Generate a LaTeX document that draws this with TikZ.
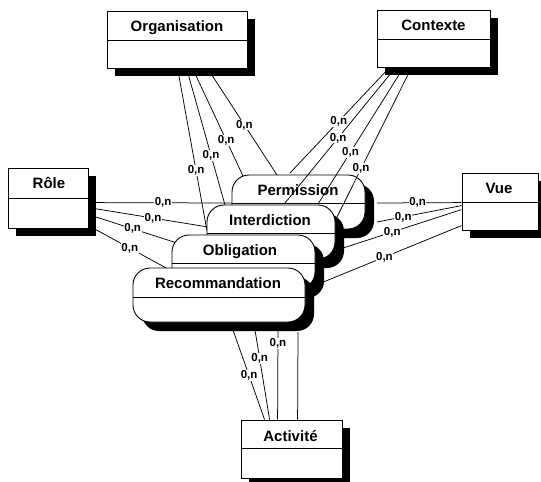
\documentclass[tikz,border=0pt]{standalone}
\usepackage{fontspec}
\setmainfont{Liberation Sans}
\usetikzlibrary{shadows}
\pgfdeclarelayer{permlayer}
\pgfdeclarelayer{linklayer}
\pgfdeclarelayer{assoclayer}
\pgfsetlayers{permlayer,linklayer,assoclayer,main}
\begin{document}
\begin{tikzpicture}[x=1pt, y=-1pt,
  ttl/.style={font=\fontsize{15}{17}\selectfont\bfseries, inner sep=0pt, anchor=base},
  card/.style={font=\fontsize{11.5}{13}\selectfont\bfseries, fill=white, inner sep=0.5pt},
  link/.style={line width=0.75pt},
  rule/.style={line width=0.85pt},
  entity/.style={draw, line width=0.85pt, fill=white, inner sep=0pt,
    drop shadow={shadow xshift=8pt, shadow yshift=-8pt, fill=black, opacity=1}},
  assoc/.style={draw, line width=0.9pt, fill=white, inner sep=0pt, rounded corners=17pt,
    drop shadow={shadow xshift=9pt, shadow yshift=-9pt, fill=black, opacity=1}},
]
\useasboundingbox (0,0) rectangle (541,482);

% entities (top layer)
\node[entity, minimum width=140pt, minimum height=57pt] (org) at (177,39.5) {};
\draw[rule] (org.west |- 0,40) -- (org.east |- 0,40);
\node[ttl] at (177,31.7) {Organisation};

\node[entity, minimum width=113pt, minimum height=57pt] (ctx) at (433.5,38.5) {};
\draw[rule] (ctx.west |- 0,39) -- (ctx.east |- 0,39);
\node[ttl] at (433.5,30.5) {Contexte};

\node[entity, minimum width=80pt, minimum height=60pt] (role) at (48,198) {};
\draw[rule] (role.west |- 0,198) -- (role.east |- 0,198);
\node[ttl] at (49,188.3) {Rôle};

\node[entity, minimum width=76pt, minimum height=57pt] (vue) at (500,201.5) {};
\draw[rule] (vue.west |- 0,202) -- (vue.east |- 0,202);
\node[ttl] at (499,193.3) {Vue};

\node[entity, minimum width=101pt, minimum height=58pt] (act) at (291.5,449) {};
\draw[rule] (act.west |- 0,448) -- (act.east |- 0,448);
\node[ttl] at (290.5,441.7) {Activité};

% rearmost association
\begin{pgfonlayer}{permlayer}
\node[assoc, minimum width=133pt, minimum height=54pt] (perm) at (298.5,202) {};
\draw[rule] (perm.west |- 0,203) -- (perm.east |- 0,203);
\node[ttl] at (298,195) {Permission};
\end{pgfonlayer}

% associations in front
\begin{pgfonlayer}{assoclayer}
\node[assoc, minimum width=128pt, minimum height=54pt] (intd) at (271,232) {};
\draw[rule] (intd.west |- 0,233) -- (intd.east |- 0,233);
\node[ttl] at (270,225) {Interdiction};

\node[assoc, minimum width=143pt, minimum height=54pt] (obl) at (243.5,262) {};
\draw[rule] (obl.west |- 0,263) -- (obl.east |- 0,263);
\node[ttl] at (240,255) {Obligation};

\node[assoc, minimum width=172pt, minimum height=54pt] (rec) at (219,295) {};
\draw[rule] (rec.west |- 0,297) -- (rec.east |- 0,297);
\node[ttl] at (218,288) {Recommandation};
\end{pgfonlayer}

% visible ends of the links
\coordinate (org-rec)  at (207,231);
\coordinate (org-obl)  at (225,205);
\coordinate (org-int)  at (243,176);
\coordinate (org-perm) at (277,175);
\coordinate (ctx-perm) at (290,173);
\coordinate (ctx-int)  at (285,203);
\coordinate (ctx-obl)  at (318,204);
\coordinate (ctx-rec)  at (335,221);
\coordinate (role-perm) at (232,203);
\coordinate (role-int)  at (208,227);
\coordinate (role-obl)  at (177,243);
\coordinate (role-rec)  at (168,269);
\coordinate (vue-perm) at (377,203);
\coordinate (vue-int)  at (377,222);
\coordinate (vue-obl)  at (340,249);
\coordinate (vue-rec)  at (316,285);
\coordinate (act-rec)  at (233,330);
\coordinate (act-obl)  at (255,330);
\coordinate (act-int)  at (278,330);
\coordinate (act-perm) at (298,330);

\begin{pgfonlayer}{linklayer}
% Organisation links
\draw[link] ([xshift=71pt]org.south west) -- node[card,pos=.63]{0,n} (org-rec);
\draw[link] ([xshift=80pt]org.south west) -- node[card,pos=.635]{0,n} (org-obl);
\draw[link] ([xshift=86pt]org.south west) -- node[card,pos=.667]{0,n} (org-int);
\draw[link] ([xshift=101pt]org.south west) -- node[card,pos=.53]{0,n} (org-perm);
% Contexte links
\draw[link] ([xshift=13pt]ctx.south west) -- node[card,pos=.51]{0,n} (ctx-perm);
\draw[link] ([xshift=19pt]ctx.south west) -- node[card,pos=.52]{0,n} (ctx-int);
\draw[link] ([xshift=27pt]ctx.south west) -- node[card,pos=.62]{0,n} (ctx-obl);
\draw[link] ([xshift=35pt]ctx.south west) -- node[card,pos=.66]{0,n} (ctx-rec);
% Role links
\draw[link] ([yshift=-35pt]role.north east) -- node[card,pos=.52]{0,n} (role-perm);
\draw[link] ([yshift=-40pt]role.north east) -- node[card,pos=.54]{0,n} (role-int);
\draw[link] ([yshift=-47pt]role.north east) -- node[card,pos=.5]{0,n} (role-obl);
\draw[link] ([yshift=-58pt]role.north east) -- node[card,pos=.52]{0,n} (role-rec);
% Vue links
\draw[link] ([yshift=-30pt]vue.north west) -- node[card,pos=.52]{0,n} (vue-perm);
\draw[link] ([yshift=-33pt]vue.north west) -- node[card,pos=.69]{0,n} (vue-int);
\draw[link] ([yshift=-37pt]vue.north west) -- node[card,pos=.57]{0,n} (vue-obl);
\draw[link] ([yshift=-53pt]vue.north west) -- node[card,pos=.53]{0,n} (vue-rec);
% Activite links
\draw[link] ([xshift=24pt]act.north west) -- node[card,pos=.49]{0,n} (act-rec);
\draw[link] ([xshift=29pt]act.north west) -- node[card,pos=.68]{0,n} (act-obl);
\draw[link] ([xshift=37pt]act.north west) -- node[card,pos=.85]{0,n} (act-int);
\draw[link] ([xshift=57pt]act.north west) -- node[card,pos=1.04]{0,n} (act-perm);
\end{pgfonlayer}
\end{tikzpicture}
\end{document}
